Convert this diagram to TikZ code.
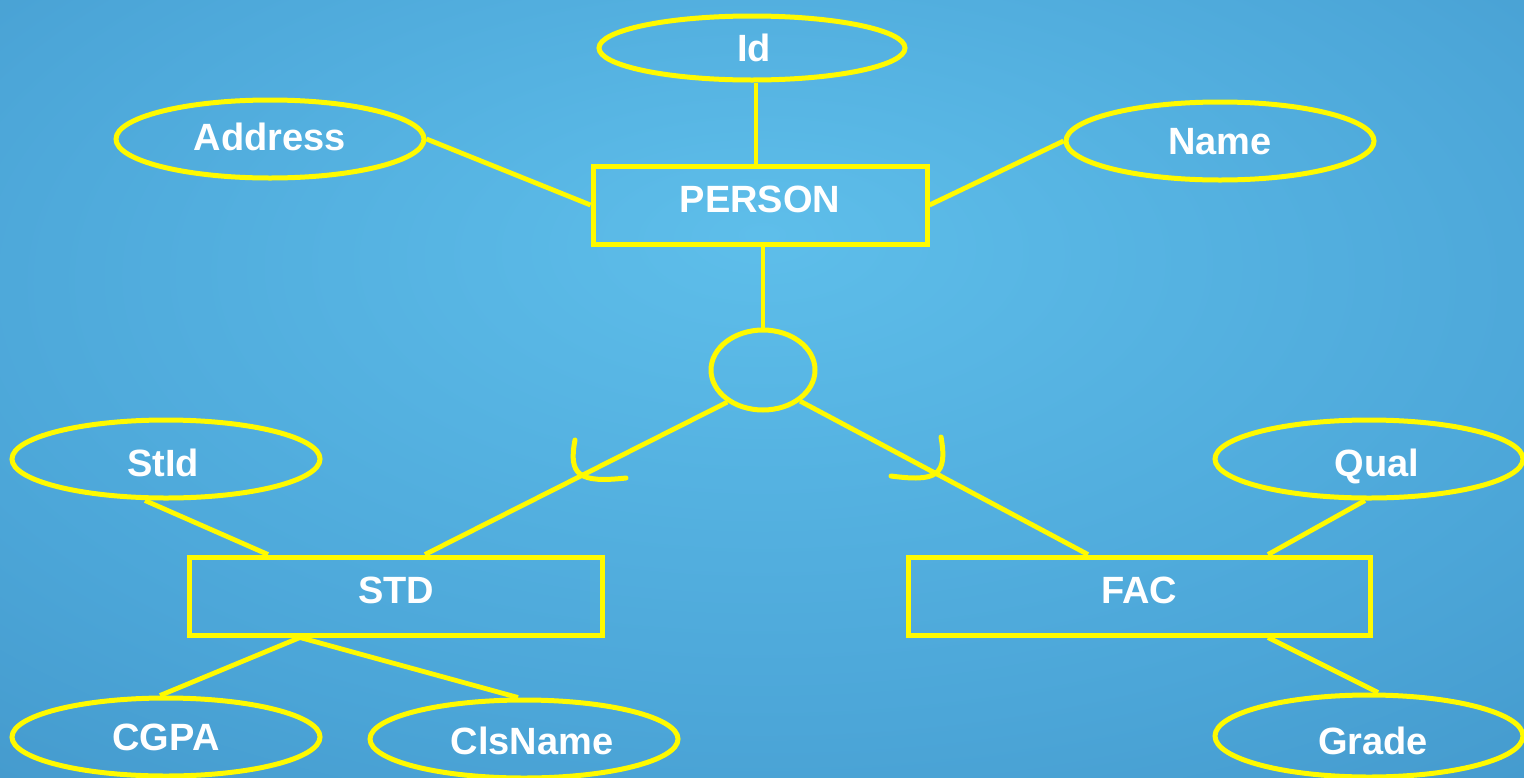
\documentclass[tikz,border=0pt]{standalone}
\usepackage{fontspec}
\setmainfont{Liberation Sans}
\usetikzlibrary{shapes.geometric}

\definecolor{bginner}{RGB}{94,190,234}
\definecolor{bgmid}{RGB}{76,166,216}
\definecolor{bgouter}{RGB}{62,144,196}
\definecolor{bgcorner}{RGB}{40,112,162}
\definecolor{erline}{RGB}{255,250,0}

\pgfdeclareradialshading{slideglow}{\pgfpoint{0bp}{10bp}}{%
  color(0bp)=(bginner); color(28bp)=(bgmid); color(50bp)=(bgouter); color(75bp)=(bgcorner)}

\tikzset{
  erlabel/.style={text=white, font=\fontsize{38}{40}\selectfont\bfseries,
                  text height=27pt, text depth=0pt},
  attr/.style={ellipse, draw=erline, line width=5pt, inner sep=0pt,
               minimum width=308pt, minimum height=78pt, erlabel},
  entity/.style={rectangle, draw=erline, line width=5pt, inner sep=0pt,
                 minimum height=78pt, erlabel, text height=27pt, text depth=12pt},
  link/.style={draw=erline, line width=4.8pt},
  subsetmark/.style={draw=erline, line width=5pt, line cap=round},
}

\begin{document}
\begin{tikzpicture}[x=1pt, y=-1pt]
  % slide background
  \useasboundingbox (0,0) rectangle (1524,777);
  \shade[shading=slideglow] (0,0) rectangle (1524,777);

  % entities
  \node[entity, minimum width=334pt] (person) at (760,205) {PERSON};
  \node[entity, minimum width=413pt] (std) at (396,596) {STD};
  \node[entity, minimum width=462pt] (fac) at (1139,596) {FAC};

  % specialization circle
  \node[ellipse, draw=erline, line width=5pt, minimum width=104pt,
        minimum height=80pt, inner sep=0pt] (isa) at (763,370) {};

  % attributes
  \node[attr, minimum width=306pt, minimum height=64pt] (id) at (752,48) {\hspace*{4pt}Id};
  \node[attr, text depth=4pt] (addr) at (270,139) {Address};
  \node[attr] (name) at (1220,141) {Name};
  \node[attr, text height=35pt] (stid) at (166,459) {StId\hspace*{6pt}};
  \node[attr, text height=35pt] (qual) at (1369,459) {\hspace*{16pt}Qual};
  \node[attr] (cgpa) at (166,737) {CGPA};
  \node[attr, text height=31pt] (cls) at (524,739) {\hspace*{16pt}ClsName};
  \node[attr, minimum height=82pt, text height=37pt] (grade) at (1369,736) {\hspace*{8pt}Grade};

  % attribute links
  \draw[link] ([xshift=4pt]id.south) -- ([xshift=4pt]id.south |- person.north);
  \draw[link] (addr.east) -- (person.west);
  \draw[link] (name.west) -- (person.east);
  \draw[link] ([xshift=-21pt]stid.south) -- ([xshift=-128pt]std.north);
  \draw[link] ([xshift=-4pt]qual.south) -- ([xshift=129pt]fac.north);
  \draw[link] ([xshift=-96pt]std.south) -- ([xshift=-6pt]cgpa.north);
  \draw[link] ([xshift=-96pt]std.south) -- ([xshift=-6pt]cls.north);
  \draw[link] ([xshift=129pt]fac.south) -- ([xshift=9pt]grade.north);

  % specialization links
  \draw[link] (isa.north |- person.south) -- (isa.north);
  \draw[link] (isa.-138) -- ([xshift=29pt]std.north);
  \draw[link] (isa.-40) -- ([xshift=-51pt]fac.north);

  % subset marks
  \draw[subsetmark] (575,440) .. controls (568,476) and (580,483) .. (626,478);
  \draw[subsetmark] (941,437) .. controls (948,476) and (936,482) .. (891,476);
\end{tikzpicture}
\end{document}
